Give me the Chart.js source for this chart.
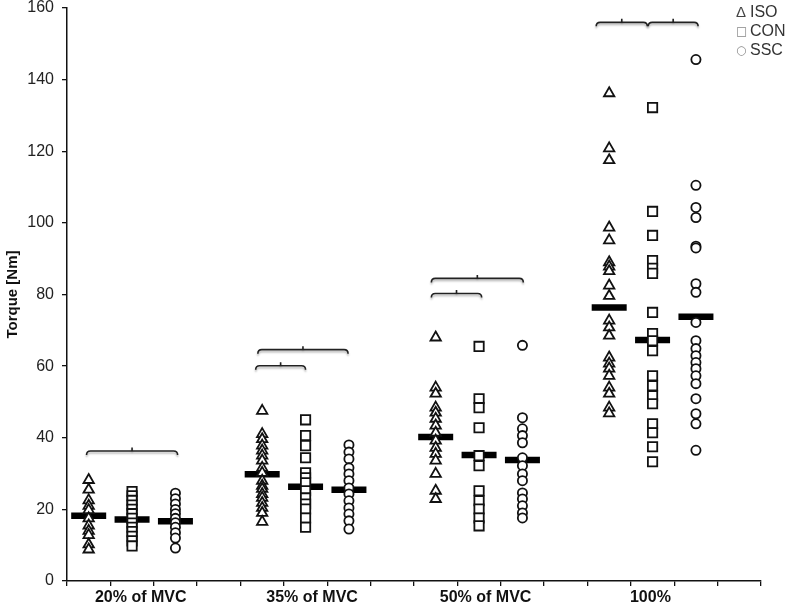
<!DOCTYPE html>
<html>
<head>
<meta charset="utf-8">
<script src="https://cdn.jsdelivr.net/npm/chart.js@4.4.1/dist/chart.umd.min.js"></script>
<style>
  html, body { margin: 0; padding: 0; background: #fff; }
  #wrap { width: 790px; height: 606px; position: relative; }
</style>
</head>
<body>
<div id="wrap"><canvas id="torqueChart"></canvas></div>
<script>
// conditions (x axis groups) and where their label sits on the column axis
const groupLabels = ['20% of MVC', '35% of MVC', '50% of MVC', '100%'];
const labelAt = [1.7, 5.65, 9.65, 13.45];
const seriesNames = ['ISO', 'CON', 'SSC'];
const legendSymbols = ['\u0394', '\u25A1', '\u25CB'];

// individual torque values [Nm]
const iso20 = [28.2, 25.5, 22.5, 21, 19.8, 17.5, 15.5, 14, 12.8, 10.2, 8.8];
const con20 = [25, 23.8, 22.5, 21.2, 20, 18.8, 17.5, 16.2, 15, 13.8, 12.5, 11.2, 9.8];
const ssc20 = [24.5, 23, 21.5, 20, 18.8, 17.5, 16.3, 15, 13.5, 12, 9.2];

const iso35 = [47.5, 41, 39.6, 37.8, 36.4, 35, 33.6, 31.6, 30.2, 28, 26.6, 25.7, 24.3, 23.2, 21.8, 20.4, 19, 16.5];
const con35 = [45, 40.6, 37.8, 34.4, 30.2, 28.8, 27.4, 25.2, 23.2, 21.5, 20.1, 17.6, 15];
const ssc35 = [38, 36, 34.1, 31.6, 29.9, 28, 26, 24.3, 22.4, 20.4, 18.7, 16.8, 14.5];

const iso50 = [68, 54, 52.3, 48.4, 47, 45.3, 43.4, 41.4, 39.2, 37.2, 35.5, 33.6, 29.9, 25.2, 22.9];
const con50 = [65.5, 50.9, 48.4, 42.8, 35, 32.2, 25.2, 22.4, 20.1, 17.6, 15.4];
const ssc50 = [65.8, 45.6, 42.5, 40.6, 38.6, 34.4, 32.2, 29.9, 28, 24.6, 22.9, 21, 19, 17.6];

const iso100 = [136.2, 120.8, 117.5, 98.7, 95.1, 89, 87.8, 86.5, 82.5, 79.6, 72.7, 70.8, 68.5, 62.4, 60.7, 59.3, 57.3, 54, 52.3, 48.4, 46.8];
const con100 = [132.2, 103.2, 96.5, 89.5, 87.3, 85.9, 75, 69.1, 67.1, 64.3, 57.3, 54.5, 51.7, 49.5, 43.9, 41.4, 37.5, 33.3];
const ssc100 = [145.6, 110.5, 104.3, 101.5, 93.5, 93, 83, 80.6, 72.2, 67.1, 64.9, 62.9, 61, 59.3, 57.3, 55.1, 50.9, 46.7, 43.9, 36.5];

// group means (thick bars)
const isoMeans = [18.2, 29.8, 40.2, 76.4];
const conMeans = [17.2, 26.3, 35.2, 67.3];
const sscMeans = [16.7, 25.5, 33.8, 73.8];

// significance brackets: from/to on the column axis, height in Nm
const bracketLeft = [0.45, 4.4, 4.35, 8.4, 8.4, 12.2, 13.4];
const bracketRight = [2.55, 6.48, 5.5, 10.52, 9.56, 13.38, 14.55];
const bracketLevel = [36.3, 64.6, 60.1, 84.5, 80.3, 156, 156];

const seriesData = [
    [iso20, iso35, iso50, iso100],
    [con20, con35, con50, con100],
    [ssc20, ssc35, ssc50, ssc100]
];
const meanData = [isoMeans, conMeans, sscMeans];
const pointStyles = ['triangle', 'rect', 'circle'];
const pointSizes = [6.0, 6.6, 4.6];

const colX = (g, s) => g * 4 + s + 0.5;

const datasets = seriesData.map((groups, s) => ({
    label: seriesNames[s],
    data: groups.flatMap((vals, g) => vals.map(v => ({ x: colX(g, s), y: v }))),
    pointStyle: pointStyles[s],
    pointRadius: pointSizes[s],
    pointBackgroundColor: '#fff',
    pointBorderColor: '#111',
    pointBorderWidth: 1.8,
    showLine: false
}));

datasets.push({
    label: 'mean',
    data: meanData.flatMap((means, s) => means.map((m, g) => ({ x: colX(g, s), y: m }))),
    pointStyle: 'line',
    pointRadius: 17.5,
    pointBorderColor: '#000',
    pointBorderWidth: 6.5,
    showLine: false
});

const bracketPlugin = {
    id: 'brackets',
    afterDatasetsDraw(chart) {
        const { ctx, scales: { x, y } } = chart;
        ctx.save();
        ctx.strokeStyle = '#222';
        ctx.lineWidth = 1.6;
        ctx.shadowColor = 'rgba(0,0,0,0.3)';
        ctx.shadowBlur = 2;
        ctx.shadowOffsetY = 2;
        bracketLevel.forEach((lvl, i) => {
            const x1 = x.getPixelForValue(bracketLeft[i]);
            const x2 = x.getPixelForValue(bracketRight[i]);
            const yy = y.getPixelForValue(lvl);
            const mid = (x1 + x2) / 2, h = 4;
            ctx.beginPath();
            ctx.moveTo(x1, yy + h);
            ctx.quadraticCurveTo(x1, yy, x1 + h, yy);
            ctx.lineTo(x2 - h, yy);
            ctx.quadraticCurveTo(x2, yy, x2, yy + h);
            ctx.moveTo(mid, yy);
            ctx.lineTo(mid, yy - 3.5);
            ctx.stroke();
        });
        ctx.restore();
    }
};

// little text legend in the top right corner
const legendPlugin = {
    id: 'textLegend',
    afterDraw(chart) {
        const ctx = chart.ctx;
        ctx.save();
        ctx.textBaseline = 'middle';
        seriesNames.forEach((name, i) => {
            const yy = 13 + i * 19;
            ctx.fillStyle = i === 0 ? '#444' : '#888';
            ctx.font = i === 0 ? '15px "Liberation Sans", Arial, sans-serif' : '12px "DejaVu Sans", sans-serif';
            ctx.fillText(legendSymbols[i], 736, yy);
            ctx.fillStyle = '#333';
            ctx.font = '16px "Liberation Sans", Arial, sans-serif';
            ctx.fillText(name, 750, yy);
        });
        ctx.restore();
    }
};

new Chart(document.getElementById('torqueChart'), {
    type: 'scatter',
    data: { datasets },
    plugins: [bracketPlugin, legendPlugin],
    options: {
        responsive: true,
        maintainAspectRatio: false,
        animation: false,
        events: [],
        layout: { autoPadding: false, padding: { top: 8, right: 29, left: 0, bottom: 0 } },
        plugins: { legend: { display: false }, tooltip: { enabled: false } },
        scales: {
            x: {
                type: 'linear',
                min: 0,
                max: 16,
                afterBuildTicks: (axis) => {
                    const t = [];
                    for (let i = 0; i <= 16; i++) t.push({ value: i });
                    labelAt.forEach(v => t.push({ value: v }));
                    axis.ticks = t.sort((a, b) => a.value - b.value);
                },
                afterFit: (scale) => { scale.height = 25; scale.paddingLeft = 0; scale.paddingRight = 0; },
                border: { display: true, color: '#111', width: 1.5 },
                grid: {
                    drawOnChartArea: false,
                    drawTicks: true,
                    tickLength: 5,
                    lineWidth: 1.3,
                    color: (c) => (c.tick && Number.isInteger(c.tick.value)) ? '#111' : 'rgba(0,0,0,0)'
                },
                ticks: {
                    autoSkip: false,
                    maxRotation: 0,
                    minRotation: 0,
                    padding: 2,
                    color: '#111',
                    font: { family: '"Liberation Sans", Arial, sans-serif', size: 16, weight: 'bold' },
                    callback: (value) => {
                        const k = labelAt.indexOf(value);
                        return k >= 0 ? groupLabels[k] : '';
                    }
                }
            },
            y: {
                min: 0,
                max: 160,
                afterFit: (scale) => { scale.width = 67; scale.paddingTop = 0; scale.paddingBottom = 0; },
                border: { display: true, color: '#111', width: 1.5 },
                grid: { drawOnChartArea: false, drawTicks: true, tickLength: 5, color: '#111', lineWidth: 1.3 },
                ticks: {
                    stepSize: 20,
                    padding: 8,
                    color: '#222',
                    font: { family: '"Liberation Sans", Arial, sans-serif', size: 16, lineHeight: 1 }
                },
                title: {
                    display: true,
                    text: 'Torque [Nm]',
                    color: '#111',
                    padding: { top: 4, bottom: 0 },
                    font: { family: '"Liberation Sans", Arial, sans-serif', size: 15, weight: 'bold' }
                }
            }
        }
    }
});
</script>
</body>
</html>
